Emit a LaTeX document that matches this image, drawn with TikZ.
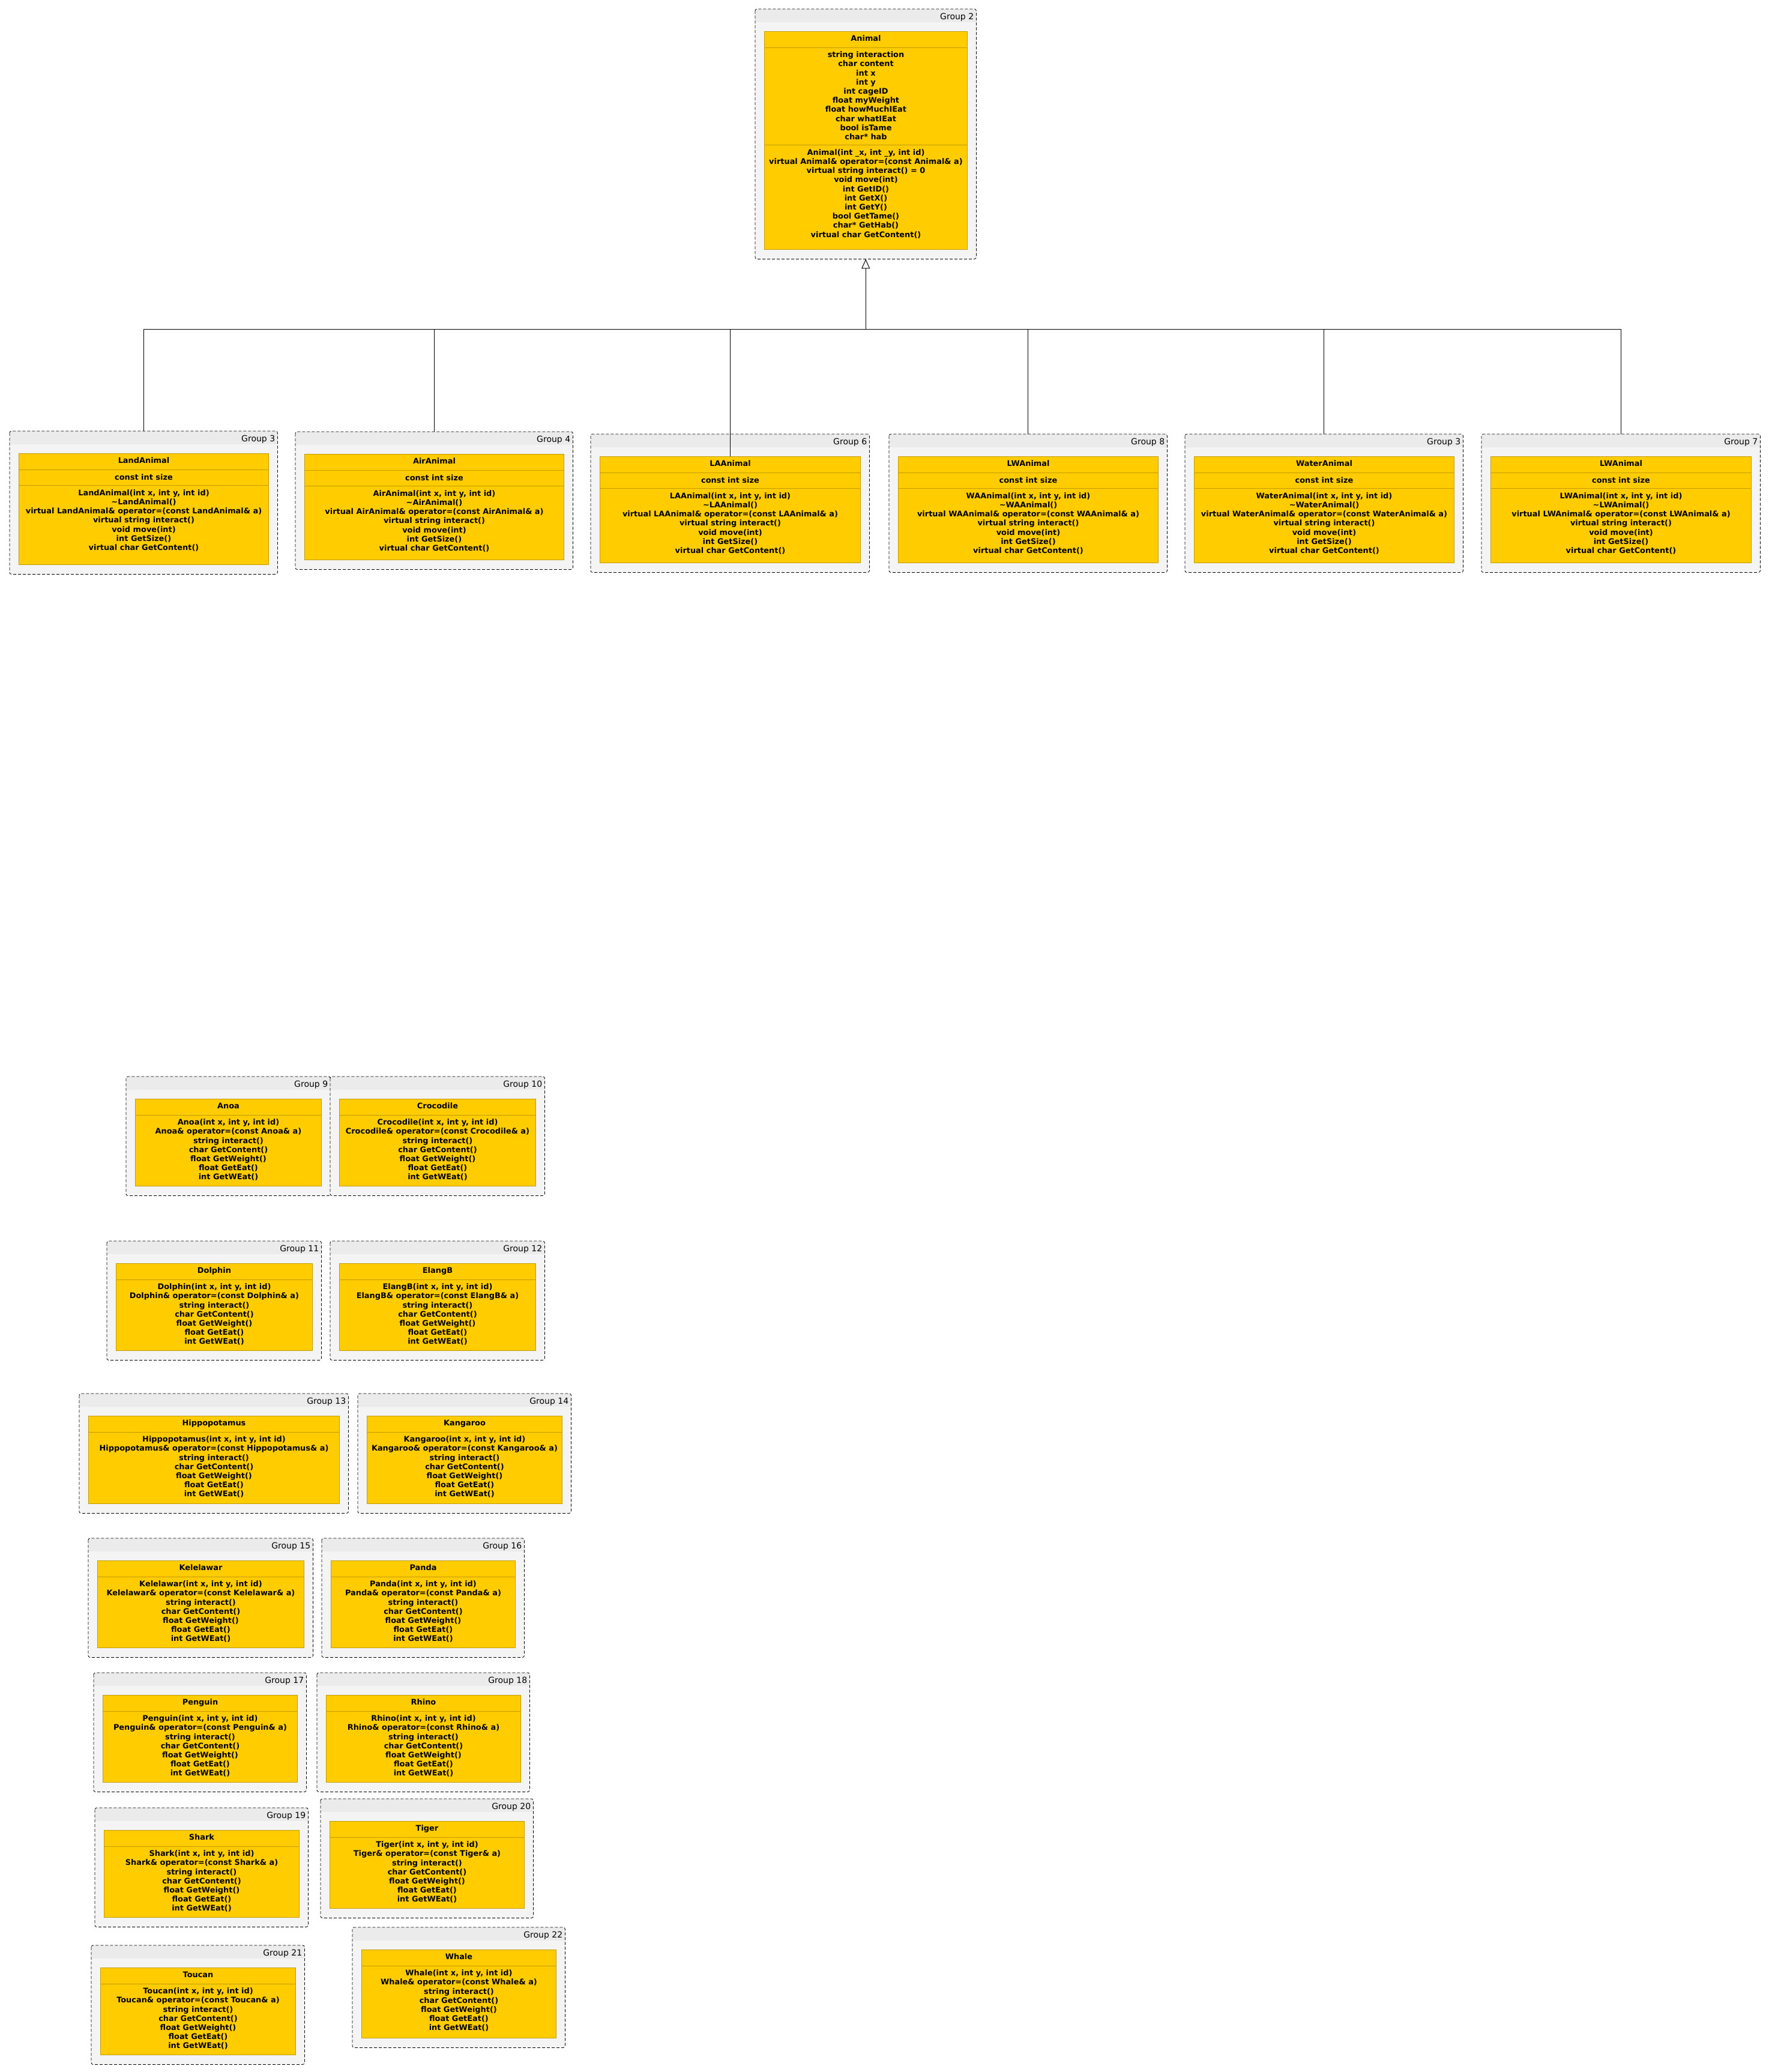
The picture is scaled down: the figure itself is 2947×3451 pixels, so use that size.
\documentclass[tikz,border=0pt]{standalone}
\usepackage{fontspec}
\setmainfont{DejaVu Sans}
\usetikzlibrary{arrows.meta}

\definecolor{groupbg}{HTML}{F4F4F4}
\definecolor{grouphead}{HTML}{EBEBEB}
\definecolor{classfill}{HTML}{FFCC00}
\definecolor{classline}{HTML}{C29B00}

\tikzset{
  groupbox/.style={fill=groupbg, inner sep=0pt, anchor=north west},
  groupline/.style={draw=black, line width=0.8pt, dash pattern=on 5pt off 3pt, rounded corners=3pt},
  grouplabel/.style={font=\fontsize{14}{16}\selectfont, inner sep=0pt, anchor=base east},
  classbox/.style={fill=classfill, draw=classline, line width=1pt, inner sep=0pt, anchor=north west},
  classtitle/.style={font=\fontsize{12.9}{15.2}\selectfont\bfseries, inner sep=0pt, anchor=base},
  classtext/.style={font=\fontsize{12.9}{15.2}\selectfont\bfseries, inner sep=0pt, align=center, anchor=north, execute at begin node=\strut},
  classsep/.style={draw=classline, line width=0.8pt},
  link/.style={line width=1pt},
  inherit/.style={link, -{Triangle[open, length=16pt, width=14pt]}}
}

% #1 id, #2-#5 group corners, #6 group, #7 class, #8 fields, #9 methods
\newcommand{\umlgroup}[9]{%
  \node[groupbox, minimum width={(#4-#2)*1pt}, minimum height={(#5-#3)*1pt}] (#1) at (#2,#3) {};
  \begin{scope}
    \clip[rounded corners=3pt] (#1.north west) rectangle (#1.south east);
    \fill[grouphead] (#1.north west) rectangle ([yshift=-22pt]#1.north east);
  \end{scope}
  \draw[groupline] (#1.north west) rectangle (#1.south east);
  \node[grouplabel] (#1-g) at ([xshift=-4pt,yshift=-17pt]#1.north east) {#6};
  \node[classbox, minimum width={(#4-#2-30)*1pt}, minimum height={(#5-#3-53)*1pt}] (#1-c) at ([xshift=15pt,yshift=-37pt]#1.north west) {};
  \node[classtitle] (#1-t) at ([yshift=-16.2pt]#1-c.north) {#7};
  \coordinate (#1-s1) at ([yshift=-27pt]#1-c.north);
  \draw[classsep] (#1-c.west |- #1-s1) -- (#1-c.east |- #1-s1);
  \if\relax\detokenize{#8}\relax
    \coordinate (#1-s2) at (#1-s1);
  \else
    \node[classtext] (#1-a) at ([yshift=-6.6pt]#1-s1) {#8};
    \coordinate (#1-s2) at ([yshift=-4.5pt]#1-a.south);
    \draw[classsep] (#1-c.west |- #1-s2) -- (#1-c.east |- #1-s2);
  \fi
  \node[classtext] (#1-m) at ([yshift=-6.6pt]#1-s2) {#9};
}

\begin{document}
\begin{tikzpicture}[x=1pt, y=-1pt]
  \useasboundingbox (0,0) rectangle (2947,3451);

  % base class
  \umlgroup{animal}{1258}{15}{1626}{431}{Group 2}{Animal}%
    {string interaction\\char content\\int x\\int y\\int cageID\\float myWeight\\float howMuchIEat\\char whatIEat\\bool isTame\\char* hab}%
    {Animal(int \_x, int \_y, int id)\\virtual Animal\& operator=(const Animal\& a)\\virtual string interact() = 0\\void move(int)\\int GetID()\\int GetX()\\int GetY()\\bool GetTame()\\char* GetHab()\\virtual char GetContent()}

  % habitat classes
  \foreach \id/\gx/\gy/\hx/\hy/\gn/\cn/\mn in {land/16/718/462/956/3/LandAnimal/LandAnimal,
      air/492/719/954/948/4/AirAnimal/AirAnimal, la/984/723/1448/953/6/LAAnimal/LAAnimal,
      lwa/1481/723/1944/953/8/LWAnimal/WAAnimal, water/1974/723/2437/953/3/WaterAnimal/WaterAnimal,
      lwb/2468/723/2932/953/7/LWAnimal/LWAnimal}{
    \umlgroup{\id}{\gx}{\gy}{\hx}{\hy}{Group \gn}{\cn}{const int size}%
      {\mn(int x, int y, int id)\\\textasciitilde\mn()\\virtual \mn\& operator=(const \mn\& a)\\virtual string interact()\\void move(int)\\int GetSize()\\virtual char GetContent()}
  }

  % animals
  \foreach \nm/\gx/\gy/\hx/\hy/\gn in {Anoa/210/1793/550/1991/9, Crocodile/550/1793/907/1991/10,
      Dolphin/178/2067/535/2265/11, ElangB/550/2067/907/2265/12,
      Hippopotamus/132/2321/580/2520/13, Kangaroo/596/2321/951/2520/14,
      Kelelawar/147/2562/521/2760/15, Panda/536/2562/873/2760/16,
      Penguin/156/2786/510/2984/17, Rhino/528/2786/882/2984/18,
      Shark/158/3011/513/3209/19, Tiger/534/2996/888/3194/20,
      Toucan/152/3240/507/3438/21, Whale/587/3210/941/3410/22}{
    \umlgroup{\nm}{\gx}{\gy}{\hx}{\hy}{Group \gn}{\nm}{}%
      {\nm(int x, int y, int id)\\\nm\& operator=(const \nm\& a)\\string interact()\\char GetContent()\\float GetWeight()\\float GetEat()\\int GetWEat()}
  }

  % inheritance
  \coordinate (hub) at (animal.south |- 0,548);
  \draw[inherit] (hub) -- (animal.south);
  \draw[link] (land.north) |- (lwb.north |- hub) -- (lwb.north);
  \foreach \id in {air, lwa, water}
    \draw[link] (\id.north) -- (\id.north |- hub);
  \draw[link] (la-c.north) -- (la-c.north |- hub);
\end{tikzpicture}
\end{document}
